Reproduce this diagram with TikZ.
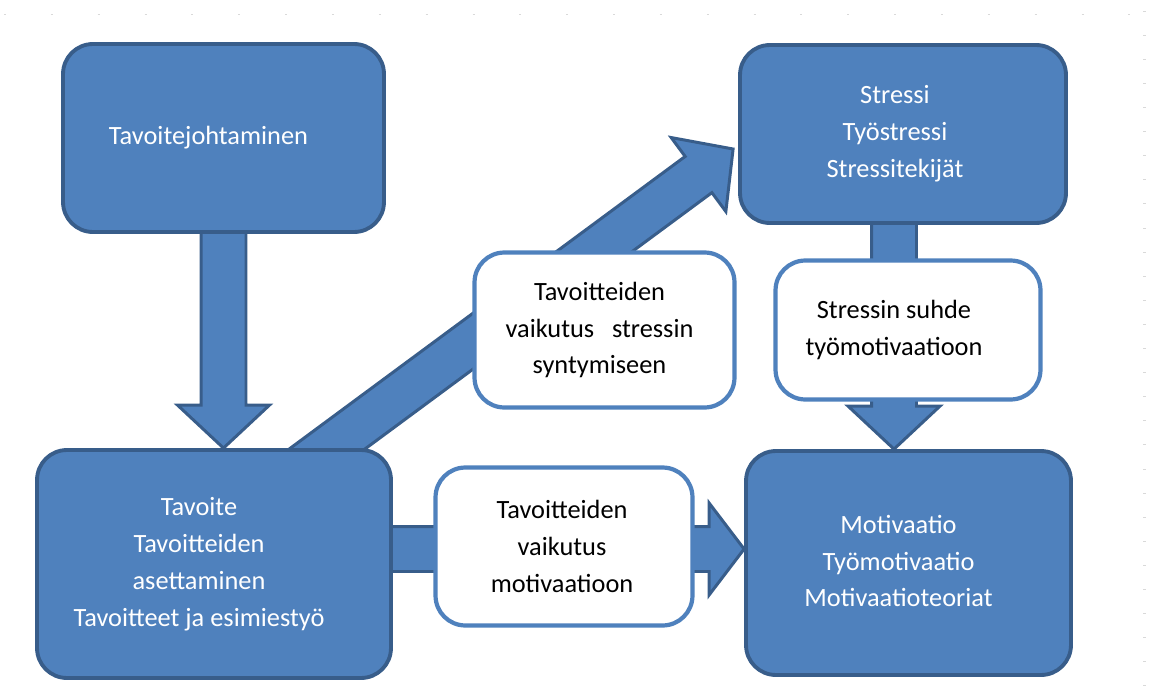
\documentclass[tikz,border=0pt]{standalone}
\usepackage{fontspec}
\setmainfont{Carlito}
\usetikzlibrary{calc,positioning}
\definecolor{boxblue}{RGB}{79,129,189}
\definecolor{edgeblue}{RGB}{56,93,138}
\pgfdeclarelayer{back}
\pgfsetlayers{back,main}

% block arrow from #2 to #3, #1 = head length
\newcommand{\blockarrow}[3][0.86cm]{%
  \coordinate (ba-s) at (#2);
  \coordinate (ba-t) at (#3);
  \coordinate (ba-h) at ($(ba-t)!#1!(ba-s)$);
  \draw[blockarrow] ($(ba-s)!0.45cm!90:(ba-t)$) -- ($(ba-h)!0.45cm!90:(ba-t)$)
    -- ($(ba-h)!0.92cm!90:(ba-t)$) -- (ba-t) -- ($(ba-h)!0.92cm!-90:(ba-t)$)
    -- ($(ba-h)!0.45cm!-90:(ba-t)$) -- ($(ba-s)!0.45cm!-90:(ba-t)$) -- cycle;}

\begin{document}
\begin{tikzpicture}[x=0.02cm,y=-0.02cm,
    bluebox/.style={draw=edgeblue,fill=boxblue,line width=2.2pt,rounded corners=17pt},
    whitebox/.style={draw=boxblue,fill=white,line width=2.4pt,rounded corners=17pt},
    boxtext/.style={align=center,font=\fontsize{15}{21}\selectfont},
    bluetext/.style={boxtext,text=white},
    blacktext/.style={boxtext,text=black},
    blockarrow/.style={draw=edgeblue,fill=boxblue,line width=1.7pt},
    tick/.style={draw=black!15,line width=0.4pt}]
        \useasboundingbox (0,0) rectangle (1153,693);
        % faint page marks
        \foreach \i in {0,...,24} \draw[tick] (4+46.85*\i,14) -- +(2,0);
        \foreach \i in {0,...,28} \draw[tick] (1143,11+24.1*\i) -- +(3,0);
        % blue boxes
        \node[bluebox,minimum width=6.42cm,minimum height=3.76cm] (lead) at (223.5,138) {};
        \node[bluebox,minimum width=6.52cm,minimum height=3.56cm] (stress) at (903,134) {};
        \node[bluebox,minimum width=7.08cm,minimum height=4.56cm] (goal) at (214,564) {};
        \node[bluebox,minimum width=6.5cm,minimum height=4.48cm] (motiv) at (908.5,563) {};
        \node[bluetext] (leadtext) at ($(lead)+(-15,0)$) {Tavoitejohtaminen};
        \node[bluetext] (stresstext) at ($(stress)+(-8,0)$) {Stressi\\Työstressi\\Stressitekijät};
        \node[bluetext] (goaltext) at ($(goal)+(-15,0)$) {Tavoite\\Tavoitteiden\\asettaminen\\Tavoitteet ja esimiestyö};
        \node[bluetext] (motivtext) at ($(motiv)+(-10,-2)$) {Motivaatio\\Työmotivaatio\\Motivaatioteoriat};
        % white boxes
        \node[whitebox,minimum width=5.2cm,minimum height=3.1cm] (effstress) at (604.5,330) {};
        \node[whitebox,minimum width=5.3cm,minimum height=2.78cm] (relation) at (908,330) {};
        \node[whitebox,minimum width=5.14cm,minimum height=3.16cm] (effmotiv) at (564,546.5) {};
        \node[blacktext] (effstresstext) at ($(effstress)+(-5,0)$) {Tavoitteiden\\vaikutus\ \ \ stressin\\syntymiseen};
        \node[blacktext] (relationtext) at ($(relation)+(-14,0)$) {Stressin suhde\\työmotivaatioon};
        \node[blacktext] (effmotivtext) at ($(effmotiv)+(-2,0)$) {Tavoitteiden\\vaikutus\\motivaatioon};
        % arrows behind the boxes
        \coordinate (down2) at ($(stress.south)+(-9,-10)$);
        \begin{pgfonlayer}{back}
        \blockarrow{lead.center}{lead.center |- goal.north}
        \blockarrow{$(goal.north)+(71,32)$}{$(stress.west)+(-5,15)$}
        \blockarrow[0.7cm]{$(goal.east)+(-10,-15)$}{$(motiv.west)+(0,-14)$}
        \blockarrow{down2}{down2 |- motiv.north}
        \end{pgfonlayer}
\end{tikzpicture}
\end{document}
